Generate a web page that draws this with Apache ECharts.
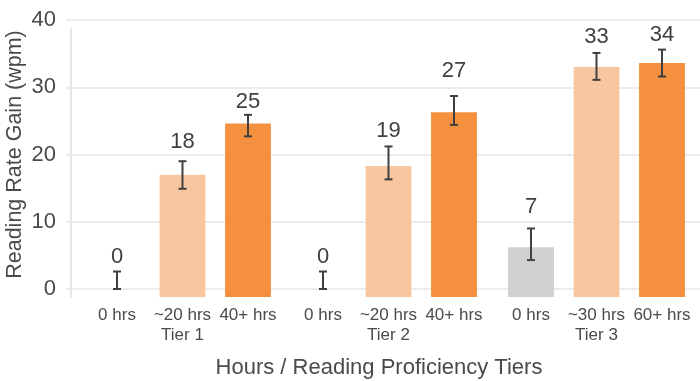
<!DOCTYPE html>
<html>
<head>
<meta charset="utf-8">
<script src="https://cdn.jsdelivr.net/npm/echarts@6/dist/echarts.min.js"></script>
<style>
html,body{margin:0;padding:0;background:#fff;}
#chart{width:700px;height:381px;}
</style>
</head>
<body>
<div id="chart"></div>
<script>
// ---- data ----
const categories = ['0 hrs', '~20 hrs', '40+ hrs', '0 hrs', '~20 hrs', '40+ hrs', '0 hrs', '~30 hrs', '60+ hrs'];
const tiers = ['Tier 1', 'Tier 2', 'Tier 3'];
const means = [0, 17.0, 24.6, 0, 18.3, 26.3, 6.2, 33.0, 33.6];
const errLow = [0, 14.9, 22.7, 0, 16.3, 24.4, 4.3, 31.1, 31.6];
const errHigh = [2.6, 19.0, 25.9, 2.6, 21.2, 28.7, 9.0, 35.1, 35.6];
const valueLabels = ['0', '18', '25', '0', '19', '27', '7', '33', '34'];
const labelAt = [4.8, 21.9, 27.85, 4.8, 23.5, 32.4, 12.15, 37.5, 37.8];
const yMin = 0, yMax = 40, yInterval = 10;

// ---- styles / layout ----
const FONT = "'Liberation Sans', Arial, sans-serif";
const TEXT = '#4a4a4a';
const barColors = ['#d0d0d0', '#f9c79f', '#f5913e'];
const ERR = '#404040';
const GRID = '#e6e6e6';
const barBaseMin = -1.19; // bars extend slightly below zero
const groupLefts = [84.25, 290.25, 498.25];
const groupWidth = 196.5;

const grids = [
  {left: 66, right: 0, top: 20, bottom: 92, outerBoundsMode: 'none', containLabel: false},
  {left: 71, right: 0, top: 29, bottom: 84, outerBoundsMode: 'none', containLabel: false}
];
const xAxes = [
  {gridIndex: 0, type: 'value', min: 0, max: 1,
   axisLine: {show: false}, axisTick: {show: false}, axisLabel: {show: false}, splitLine: {show: false},
   name: 'Hours / Reading Proficiency Tiers', nameLocation: 'middle', nameGap: 68,
   nameTextStyle: {fontFamily: FONT, fontSize: 22, color: TEXT, verticalAlign: 'top', padding: [0, 8, 0, 0]}},
  {gridIndex: 1, type: 'value', min: 0, max: 1, show: false}
];
const yAxes = [
  {gridIndex: 0, type: 'value', min: yMin, max: yMax, interval: yInterval,
   axisLine: {show: false}, axisTick: {show: false},
   axisLabel: {fontFamily: FONT, fontSize: 22, color: TEXT, margin: 10},
   splitLine: {lineStyle: {color: GRID, width: 1.5}},
   name: 'Reading Rate Gain (wpm)', nameLocation: 'middle', nameGap: 40, nameMoveOverlap: false,
   nameTextStyle: {fontFamily: FONT, fontSize: 21.5, color: TEXT}},
  {gridIndex: 1, type: 'value', min: 0, max: 1,
   axisLine: {show: true, lineStyle: {color: GRID, width: 2}},
   axisTick: {show: false}, axisLabel: {show: false}, splitLine: {show: false}}
];
const series = [];

for (let g = 0; g < 3; g++) {
  const gi = g + 2;
  grids.push({left: groupLefts[g], width: groupWidth, top: 20, bottom: 84, outerBoundsMode: 'none', containLabel: false});
  const cats = categories.slice(g * 3, g * 3 + 3).map((c, k) => k === 1 ? c + '\n' + tiers[g] : c);
  xAxes.push({gridIndex: gi, type: 'category', data: cats,
    axisLine: {show: false}, axisTick: {show: false}, splitLine: {show: false},
    axisLabel: {interval: 0, fontFamily: FONT, fontSize: 17, lineHeight: 20, color: TEXT, margin: 8}});
  yAxes.push({gridIndex: gi, type: 'value', min: barBaseMin, max: yMax, show: false});
  const data = [];
  for (let k = 0; k < 3; k++) {
    const i = g * 3 + k;
    data.push([k, means[i], errLow[i], errHigh[i], labelAt[i]]);
  }
  series.push({
    type: 'custom', xAxisIndex: gi, yAxisIndex: gi, data: data, clip: false,
    renderItem: function (params, api) {
      const k = api.value(0);
      const i = g * 3 + k;
      const v = api.value(1), lo = api.value(2), hi = api.value(3), la = api.value(4);
      const top = api.coord([k, v]);
      const base = api.coord([k, barBaseMin]);
      const w = api.size([1, 0])[0] * 0.7;
      const children = [];
      if (v > 0) {
        children.push({type: 'rect', shape: {x: top[0] - w / 2, y: top[1], width: w, height: base[1] - top[1]},
          style: {fill: barColors[k]}});
      }
      const pl = api.coord([k, lo]), ph = api.coord([k, hi]);
      const cap = 4;
      const ls = {stroke: ERR, lineWidth: 2};
      children.push({type: 'line', shape: {x1: pl[0], y1: pl[1], x2: ph[0], y2: ph[1]}, style: ls});
      children.push({type: 'line', shape: {x1: ph[0] - cap, y1: ph[1], x2: ph[0] + cap, y2: ph[1]}, style: ls});
      children.push({type: 'line', shape: {x1: pl[0] - cap, y1: pl[1], x2: pl[0] + cap, y2: pl[1]}, style: ls});
      const pt = api.coord([k, la]);
      children.push({type: 'text', x: pt[0], y: pt[1],
        style: {text: valueLabels[i], fill: ERR, font: '22px ' + FONT, align: 'center', verticalAlign: 'middle'}});
      return {type: 'group', children: children};
    }
  });
}

const chart = echarts.init(document.getElementById('chart'), null, {renderer: 'canvas'});
chart.setOption({
  animation: false,
  backgroundColor: '#ffffff',
  textStyle: {fontFamily: FONT},
  grid: grids, xAxis: xAxes, yAxis: yAxes, series: series
});
</script>
</body>
</html>
